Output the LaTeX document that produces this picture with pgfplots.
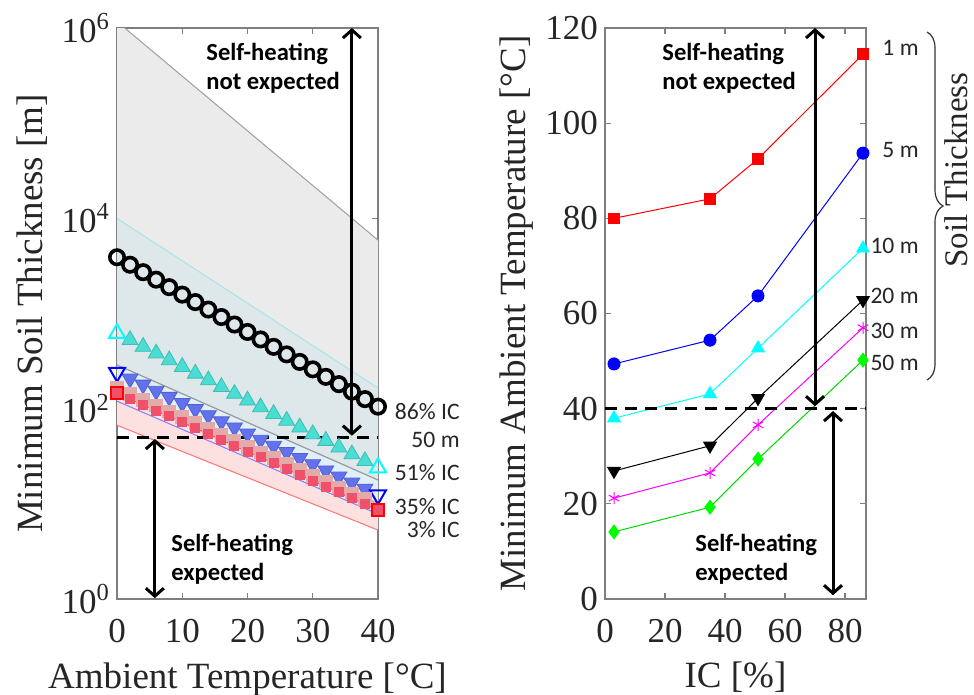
\documentclass[border=0pt]{standalone}
\usepackage{pgfplots}
\pgfplotsset{compat=1.18}
\usepackage{fontspec}
\setmainfont{Liberation Serif}
\newfontfamily\calib{Carlito}
\usetikzlibrary{arrows.meta,decorations.pathreplacing}

\definecolor{axgray}{HTML}{7F7F7F}
\definecolor{bandA}{HTML}{EBEBEB}
\definecolor{bandB}{HTML}{DEE7E9}
\definecolor{bandC}{HTML}{E1EFF9}
\definecolor{bandD}{HTML}{FDE1E1}
\definecolor{cyanfill}{HTML}{4ADDD4}
\definecolor{bluefill}{HTML}{6272EE}
\definecolor{pinkfill}{HTML}{E3AAAA}
\definecolor{redfill}{HTML}{F0506A}
\definecolor{mred}{HTML}{FF0000}
\definecolor{mblue}{HTML}{0000FF}
\definecolor{mcyan}{HTML}{00FFFF}
\definecolor{mmagenta}{HTML}{FF00FF}
\definecolor{mgreen}{HTML}{00FF00}
\definecolor{cyanedge}{HTML}{A8E6E6}

\pgfplotsset{
  mlab/.style={
    scale only axis, width=130.5pt, height=285.5pt, anchor=south west,
    tick align=inside, tick pos=both, major tick length=3pt,
    axis line style={axgray, line width=0.6pt},
    every tick/.style={axgray, line width=0.6pt},
    tick label style={font=\fontsize{17.5}{17.5}\selectfont, text=black!85},
    label style={font=\fontsize{18.5}{18.5}\selectfont, text=black!85},
    xticklabel shift=6.5pt,
    /pgf/number format/assume math mode=true,
  },
  endmark/.style={only marks, line width=1pt, mark size=#1},
}

\begin{document}
\begin{tikzpicture}[>={Straight Barb[length=4pt,width=9pt]}]
\path[use as bounding box] (0,0) rectangle (487pt,-347.5pt);

% ---------- left panel ----------
\begin{axis}[mlab, at={(58.5pt,-299.5pt)},
  xmin=0, xmax=40, ymode=log, ymin=1, ymax=1e6,
  xtick={0,10,20,30,40},
  ytick={1,100,10000,1000000}, yminorticks=false,
  yticklabels={10\textsuperscript{0},10\textsuperscript{2},10\textsuperscript{4},10\textsuperscript{6}},
  xlabel={Ambient Temperature [°C]},
  ylabel={Minimum Soil Thickness [m]},
  xlabel style={at={(axis description cs:0.5,-0.142)}, anchor=center},
  ylabel style={at={(axis description cs:-0.326,0.5)}, anchor=center},
]
% shaded bands
\addplot[fill=bandA, draw=none] coordinates {(0,1.17e6) (40,5900) (40,165) (0,10000)} --cycle;
\addplot[fill=bandB, draw=none] coordinates {(0,10000) (40,165) (40,17.8) (0,288)} --cycle;
\addplot[fill=bandC, draw=none] coordinates {(0,288) (40,17.8) (40,8.6) (0,146)} --cycle;
\addplot[fill=bandD, draw=none] coordinates {(0,146) (40,8.6) (40,5.3) (0,67)} --cycle;
% band edges
\addplot[gray!75, line width=0.5pt] coordinates {(0,1.17e6) (40,5900)};
\addplot[cyanedge, line width=0.5pt] coordinates {(0,10000) (40,165)};
\addplot[gray!80, line width=0.6pt] coordinates {(0,288) (40,17.8)};
\addplot[gray!55, line width=1pt] coordinates {(0,160) (40,10)};
\addplot[blue!50, line width=0.5pt] coordinates {(0,120) (40,7.8)};
\addplot[red!55, line width=0.5pt] coordinates {(0,67) (40,5.3)};

% 51% IC
\addplot[only marks, mark=triangle*, mark size=4.6pt, mark options={fill=cyanfill, draw=cyanfill!85!black}] coordinates {
(2,527) (4,448) (6,381) (8,323) (10,275) (12,234) (14,199) (16,169) (18,143.5) (20,122)
(22,103.7) (24,88.1) (26,74.9) (28,63.6) (30,54.1) (32,46.0) (34,39.1) (36,33.2) (38,28.2)};
\addplot[endmark=4.6pt, mark=triangle, mcyan] coordinates {(0,620) (40,24)};
% 35% IC
\addplot[only marks, mark=triangle*, mark size=4.6pt, mark options={rotate=180, fill=bluefill, draw=bluefill!85!black}] coordinates {
(2,207) (4,178.5) (6,153.9) (8,132.7) (10,114.4) (12,98.7) (14,85.1) (16,73.4) (18,63.3) (20,54.6)
(22,47.0) (24,40.6) (26,35.0) (28,30.2) (30,26.0) (32,22.4) (34,19.3) (36,16.7) (38,14.4)};
\addplot[endmark=4.6pt, mark=triangle, mark options={rotate=180}, mblue] coordinates {(0,240) (40,12.4)};
% pink markers
\addplot[only marks, mark=square*, mark size=3.2pt, mark options={fill=pinkfill, draw=pinkfill}] coordinates {
(0,165) (2,143) (4,124) (6,108) (8,93.7) (10,81.3) (12,70.5) (14,61.2) (16,53.1) (18,46.1)
(20,40.0) (22,34.8) (24,30.2) (26,26.2) (28,22.7) (30,19.8) (32,17.2) (34,14.9) (36,12.9) (38,11.2)};
% 3% IC
\addplot[redfill, line width=0.6pt, mark=square*, mark size=2.2pt, mark options={fill=redfill, draw=redfill}] coordinates {
(0,146) (2,126.7) (4,110.0) (6,95.5) (8,82.9) (10,71.9) (12,62.4) (14,54.2) (16,47.0) (18,40.8) (20,35.4)
(22,30.8) (24,26.7) (26,23.2) (28,20.1) (30,17.5) (32,15.2) (34,13.2) (36,11.4) (38,9.9) (40,8.6)};
\addplot[endmark=3.2pt, mark=square, mred] coordinates {(0,146) (40,8.6)};
% 86% IC
\addplot[only marks, mark=o, mark size=3.6pt, mark options={black, line width=1.8pt}] coordinates {
(0,3900) (2,3255) (4,2717) (6,2267) (8,1892) (10,1579) (12,1318) (14,1100) (16,918) (18,766) (20,640)
(22,534) (24,446) (26,372) (28,310) (30,259) (32,216) (34,181) (36,151) (38,126) (40,105)};
% 50 m threshold and arrows
\addplot[black, line width=1.5pt, dash pattern=on 6pt off 4pt] coordinates {(0,50) (40,50)};
\addplot[black, line width=1.5pt, <->] coordinates {(36,52) (36,1e6)};
\addplot[black, line width=1.5pt, <->] coordinates {(5.8,1.02) (5.8,48)};
\end{axis}

% ---------- right panel ----------
\begin{axis}[mlab, at={(302.5pt,-299.5pt)},
  xmin=0, xmax=87, ymin=0, ymax=120,
  xtick={0,20,40,60,80}, ytick={0,20,...,120},
  xlabel={IC [\%]},
  ylabel={Minimum Ambient Temperature [°C]},
  xlabel style={at={(axis description cs:0.5,-0.136)}, anchor=center},
  ylabel style={at={(axis description cs:-0.340,0.5)}, anchor=center},
]
\addplot[mred, line width=0.5pt, mark=square*, mark size=2.6pt] coordinates {(3,80) (35,84.1) (51,92.5) (86,114.5)};
\addplot[mblue, line width=0.5pt, mark=*, mark size=3pt] coordinates {(3,49.4) (35,54.4) (51,63.7) (86,93.7)};
\addplot[mcyan, line width=0.5pt, mark=triangle*, mark size=3.6pt] coordinates {(3,38) (35,43.1) (51,52.7) (86,73.7)};
\addplot[black, line width=0.5pt, mark=triangle*, mark size=3.6pt, mark options={rotate=180}] coordinates {(3,26.9) (35,32.2) (51,42.2) (86,62.8)};
\addplot[mmagenta, line width=0.5pt, mark=asterisk, mark size=3pt] coordinates {(3,21.2) (35,26.5) (51,36.6) (86,57)};
\addplot[mgreen!85!black, line width=0.5pt, mark=diamond*, mark size=3.4pt, mark options={draw=mgreen, fill=mgreen}] coordinates {(3,14.1) (35,19.3) (51,29.4) (86,50.2)};
\addplot[black, line width=1.5pt, dash pattern=on 6pt off 4pt] coordinates {(0,40) (87,40)};
\addplot[black, line width=1.5pt, <->] coordinates {(70,40.5) (70,120)};
\addplot[black, line width=1.5pt, <->] coordinates {(76,39.5) (76,0.8)};
\end{axis}

% ---------- annotations (pixel grid of the reference, 1 px = 0.5 pt) ----------
\begin{scope}[x=0.5pt, y=-0.5pt]
\tikzset{bl/.style={font=\calib\bfseries\fontsize{12.3}{14.5}\selectfont, align=left, anchor=west, inner sep=0pt},
         rl/.style={font=\calib\fontsize{11.8}{12}\selectfont, anchor=east, inner sep=0pt, text=black!85}}
\node[bl] at (206,68.5) {Self-heating\\not expected};
\node[bl] at (171,559) {Self-heating\\expected};
\node[bl] at (662,68.5) {Self-heating\\not expected};
\node[bl] at (695,559) {Self-heating\\expected};

\node[rl] at (460,412) {86\% IC};
\node[rl] at (460,440) {50 m};
\node[rl] at (460,473) {51\% IC};
\node[rl] at (460,507) {35\% IC};
\node[rl] at (460,530) {3\% IC};

\node[rl] at (919,48) {1 m};
\node[rl] at (919,150) {5 m};
\node[rl] at (919,246) {10 m};
\node[rl] at (919,296) {20 m};
\node[rl] at (919,331) {30 m};
\node[rl] at (919,363) {50 m};

\draw[decorate, decoration={brace, amplitude=8pt}, line width=0.6pt, black!80] (927,32) -- (927,380);
\node[rotate=90, anchor=south, inner sep=0pt, font=\fontsize{16.5}{16.5}\selectfont, text=black!85] at (968,170) {Soil Thickness};
\end{scope}
\end{tikzpicture}
\end{document}
